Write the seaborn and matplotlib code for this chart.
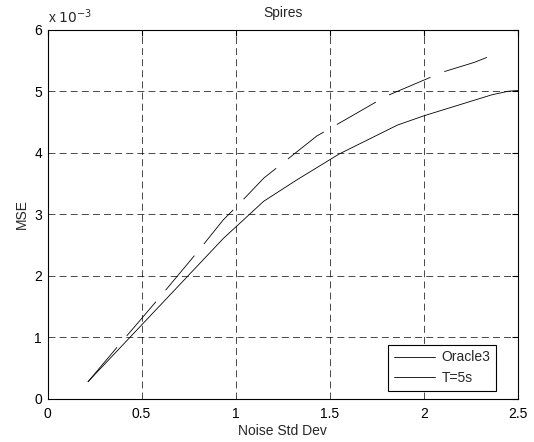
import numpy as np
import pandas as pd
import seaborn as sns
import matplotlib
matplotlib.use("Agg")
import matplotlib.pyplot as plt
from matplotlib.lines import Line2D

# values (MSE in units of 1e-3)
noise_oracle = [0.215, 0.935, 1.148, 1.32, 1.55, 1.86, 2.0, 2.36, 2.45, 2.5]
mse_oracle = [0.28, 2.61, 3.21, 3.55, 3.98, 4.45, 4.60, 4.94, 5.00, 5.01]

noise_t5s = [0.215, 0.375, 0.59, 0.80, 0.934, 1.006, 1.15, 1.245, 1.43, 1.59, 1.80, 2.10, 2.27, 2.36, 2.41]
mse_t5s = [0.28, 0.86, 1.63, 2.40, 2.91, 3.13, 3.59, 3.82, 4.27, 4.55, 4.92, 5.31, 5.47, 5.58, 5.59]

labels = ["Oracle3", "T=5s"]

sns.set_style("white")
plt.rcParams['font.family'] = ['Liberation Sans', 'DejaVu Sans']
plt.rcParams['font.size'] = 10

fig = plt.figure(figsize=(5.34, 4.42), dpi=100)
ax = fig.add_axes([0.089, 0.0973, 0.881, 0.8357])

df1 = pd.DataFrame({"noise": noise_oracle, "mse": mse_oracle})
df2 = pd.DataFrame({"noise": noise_t5s, "mse": mse_t5s})

sns.lineplot(data=df1, x="noise", y="mse", ax=ax, color="k", lw=0.6,
             sort=False, estimator=None)
l2 = sns.lineplot(data=df2, x="noise", y="mse", ax=ax, color="k", lw=0.6,
                  sort=False, estimator=None).lines[-1]
l2.set_dashes((54, 18))

ax.set_xlim(0, 2.5)
ax.set_ylim(0, 6)
ax.set_xticks([0, 0.5, 1, 1.5, 2, 2.5])
ax.set_xticklabels(["0", "0.5", "1", "1.5", "2", "2.5"])
ax.set_yticks([0, 1, 2, 3, 4, 5, 6])
ax.grid(True, color="k", linestyle=(0, (10, 6)), lw=0.5)
ax.tick_params(direction="in", top=True, right=True, length=4, width=0.8,
               labelsize=10, colors="k", pad=4)
ax.tick_params(axis="x", pad=6)
for s in ax.spines.values():
    s.set_color("k")
    s.set_linewidth(0.8)

ax.set_xlabel("Noise Std Dev", fontsize=10, labelpad=2)
ax.set_ylabel("MSE", fontsize=10, labelpad=4)
ax.set_title("Spires", fontsize=10, pad=9)
ax.text(0.0, 1.01, r"x $10^{-3}$", transform=ax.transAxes, fontsize=10,
        ha="left", va="bottom")

handles = [Line2D([], [], color="k", lw=0.6), Line2D([], [], color="k", lw=0.6)]
leg = ax.legend(handles, labels, loc="lower right", bbox_to_anchor=(0.953, 0.022),
                borderaxespad=0, fancybox=False, framealpha=1, fontsize=10,
                handlelength=3.0, handletextpad=0.45, labelspacing=0.5,
                edgecolor="k")
leg.get_frame().set_linewidth(0.8)

fig.savefig("out.png", dpi=100)
